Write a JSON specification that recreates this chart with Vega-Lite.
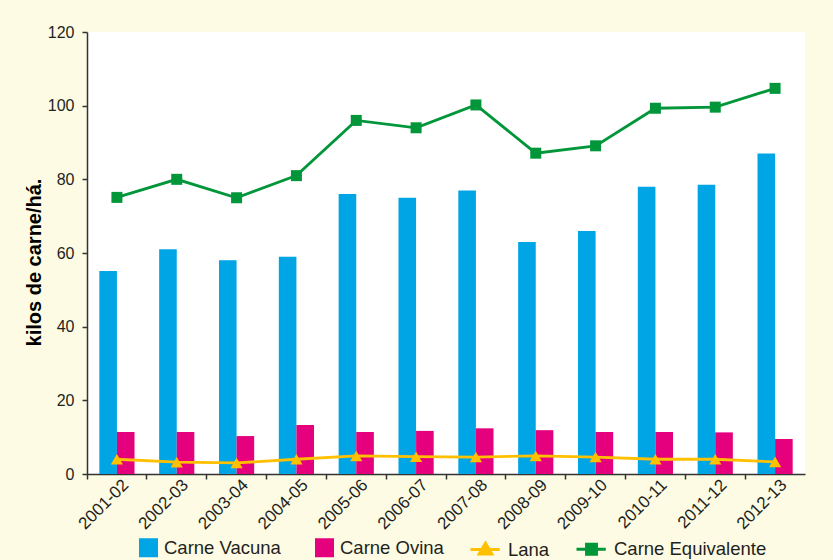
{
  "$schema": "https://vega.github.io/schema/vega-lite/v6.json",
  "width": 718,
  "height": 442,
  "autosize": {"type": "none"},
  "padding": {"left": 87, "top": 32, "right": 28, "bottom": 86},
  "background": "#FDFBE3",
  "config": {
    "view": {"fill": "#FFFFFF", "stroke": null},
    "font": "Liberation Sans, Arial, sans-serif",
    "axis": {
      "domainColor": "#333333",
      "domainWidth": 1.5,
      "tickColor": "#333333",
      "tickWidth": 1.5,
      "tickSize": 5,
      "labelColor": "#231F20",
      "labelFont": "Liberation Sans, Arial, sans-serif",
      "grid": false
    },
    "legend": {"layout": {"bottom": {"anchor": "middle"}}}
  },
  "data": {
    "values": [
      {"year": "2001-02", "series": "Carne Vacuna", "value": 55.1},
      {"year": "2002-03", "series": "Carne Vacuna", "value": 61},
      {"year": "2003-04", "series": "Carne Vacuna", "value": 58},
      {"year": "2004-05", "series": "Carne Vacuna", "value": 59},
      {"year": "2005-06", "series": "Carne Vacuna", "value": 76},
      {"year": "2006-07", "series": "Carne Vacuna", "value": 75},
      {"year": "2007-08", "series": "Carne Vacuna", "value": 77},
      {"year": "2008-09", "series": "Carne Vacuna", "value": 63},
      {"year": "2009-10", "series": "Carne Vacuna", "value": 66},
      {"year": "2010-11", "series": "Carne Vacuna", "value": 78},
      {"year": "2011-12", "series": "Carne Vacuna", "value": 78.5},
      {"year": "2012-13", "series": "Carne Vacuna", "value": 87},
      {"year": "2001-02", "series": "Carne Ovina", "value": 11.4},
      {"year": "2002-03", "series": "Carne Ovina", "value": 11.4},
      {"year": "2003-04", "series": "Carne Ovina", "value": 10.3},
      {"year": "2004-05", "series": "Carne Ovina", "value": 13.3},
      {"year": "2005-06", "series": "Carne Ovina", "value": 11.4},
      {"year": "2006-07", "series": "Carne Ovina", "value": 11.7},
      {"year": "2007-08", "series": "Carne Ovina", "value": 12.4},
      {"year": "2008-09", "series": "Carne Ovina", "value": 11.9},
      {"year": "2009-10", "series": "Carne Ovina", "value": 11.4},
      {"year": "2010-11", "series": "Carne Ovina", "value": 11.4},
      {"year": "2011-12", "series": "Carne Ovina", "value": 11.3},
      {"year": "2012-13", "series": "Carne Ovina", "value": 9.5},
      {"year": "2001-02", "series": "Lana", "value": 4.0},
      {"year": "2002-03", "series": "Lana", "value": 3.2},
      {"year": "2003-04", "series": "Lana", "value": 3.0},
      {"year": "2004-05", "series": "Lana", "value": 4.0},
      {"year": "2005-06", "series": "Lana", "value": 4.9},
      {"year": "2006-07", "series": "Lana", "value": 4.7},
      {"year": "2007-08", "series": "Lana", "value": 4.6},
      {"year": "2008-09", "series": "Lana", "value": 4.9},
      {"year": "2009-10", "series": "Lana", "value": 4.6},
      {"year": "2010-11", "series": "Lana", "value": 4.0},
      {"year": "2011-12", "series": "Lana", "value": 4.0},
      {"year": "2012-13", "series": "Lana", "value": 3.3},
      {"year": "2001-02", "series": "Carne Equivalente", "value": 75.1},
      {"year": "2002-03", "series": "Carne Equivalente", "value": 80},
      {"year": "2003-04", "series": "Carne Equivalente", "value": 75},
      {"year": "2004-05", "series": "Carne Equivalente", "value": 81},
      {"year": "2005-06", "series": "Carne Equivalente", "value": 96},
      {"year": "2006-07", "series": "Carne Equivalente", "value": 94},
      {"year": "2007-08", "series": "Carne Equivalente", "value": 100.2},
      {"year": "2008-09", "series": "Carne Equivalente", "value": 87.1},
      {"year": "2009-10", "series": "Carne Equivalente", "value": 89.1},
      {"year": "2010-11", "series": "Carne Equivalente", "value": 99.3},
      {"year": "2011-12", "series": "Carne Equivalente", "value": 99.6},
      {"year": "2012-13", "series": "Carne Equivalente", "value": 104.7}
    ]
  },
  "encoding": {
    "x": {
      "field": "year",
      "type": "nominal",
      "sort": null,
      "scale": {"paddingInner": 0, "paddingOuter": 0},
      "axis": {
        "title": null,
        "bandPosition": 0,
        "labelOffset": 9,
        "labelAngle": -45,
        "labelAlign": "right",
        "labelBaseline": "middle",
        "labelPadding": 3,
        "labelFontSize": 17
      }
    },
    "y": {
      "field": "value",
      "type": "quantitative",
      "scale": {"domain": [0, 120], "nice": false},
      "axis": {
        "values": [0, 20, 40, 60, 80, 100, 120],
        "title": "kilos de carne/há.",
        "titleFont": "Liberation Sans, Arial, sans-serif",
        "titleFontSize": 20,
        "titleFontWeight": "bold",
        "titleColor": "#000000",
        "titlePadding": 3,
        "titleY": 230,
        "labelPadding": 8,
        "labelFontSize": 16
      }
    },
    "color": {
      "field": "series",
      "type": "nominal",
      "scale": {
        "domain": ["Carne Vacuna", "Carne Ovina", "Lana", "Carne Equivalente"],
        "range": ["#00A5E6", "#E5007D", "#FFC000", "#009639"]
      },
      "legend": {
        "title": null,
        "orient": "bottom",
        "direction": "horizontal",
        "offset": -1,
        "padding": 0,
        "symbolSize": 900,
        "labelFontSize": 18.5,
        "labelFont": "Liberation Sans, Arial, sans-serif",
        "labelColor": "#231F20",
        "labelOffset": 6,
        "columnPadding": 20,
        "labelLimit": 300,
        "encode": {
          "symbols": {
            "update": {
              "shape": {"signal": "datum.value === 'Lana' ? 'M-1,0L0.95,0M0,-0.42L0.42,0.3L-0.42,0.3Z' : datum.value === 'Carne Equivalente' ? 'M-1,0L0.95,0M-0.33,-0.33L0.33,-0.33L0.33,0.33L-0.33,0.33Z' : 'M-0.067,-0.533L1,-0.533L1,0.533L-0.067,0.533Z'"},
              "fill": {"signal": "datum.value === 'Lana' ? '#FFC000' : datum.value === 'Carne Equivalente' ? '#009639' : datum.value === 'Carne Ovina' ? '#E5007D' : '#00A5E6'"},
              "stroke": {"signal": "datum.value === 'Lana' ? '#FFC000' : datum.value === 'Carne Equivalente' ? '#009639' : 'transparent'"},
              "strokeWidth": {"value": 3},
              "opacity": {"value": 1},
              "fillOpacity": {"value": 1}
            }
          }
        }
      }
    }
  },
  "layer": [
    {
      "transform": [{"filter": "datum.series === 'Carne Vacuna' || datum.series === 'Carne Ovina'"}],
      "mark": {"type": "bar"},
      "encoding": {
        "xOffset": {
          "field": "series",
          "type": "nominal",
          "scale": {"domain": ["Carne Vacuna", "Carne Ovina"], "paddingInner": 0, "paddingOuter": 0.7}
        }
      }
    },
    {
      "transform": [{"filter": "datum.series === 'Lana' || datum.series === 'Carne Equivalente'"}],
      "mark": {"type": "line", "strokeWidth": 2.8},
      "encoding": {}
    },
    {
      "transform": [{"filter": "datum.series === 'Lana'"}],
      "mark": {"type": "point", "shape": "triangle-up", "filled": true, "opacity": 1, "size": 150},
      "encoding": {}
    },
    {
      "transform": [{"filter": "datum.series === 'Carne Equivalente'"}],
      "mark": {"type": "point", "shape": "square", "filled": true, "opacity": 1, "size": 121},
      "encoding": {}
    }
  ]
}
